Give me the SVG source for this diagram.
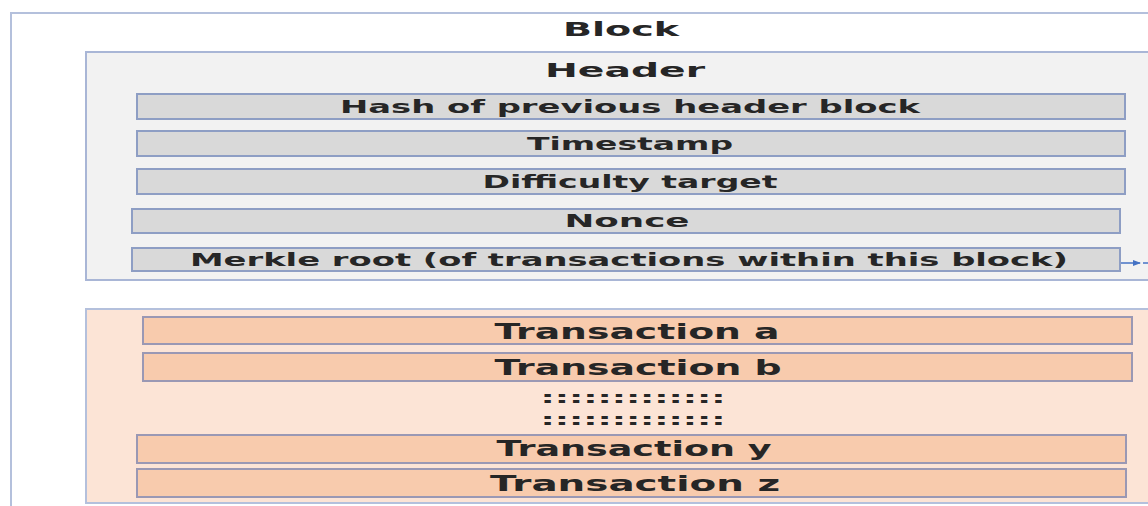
<svg xmlns="http://www.w3.org/2000/svg" width="1148" height="506" viewBox="0 0 1148 506">
<style>
.t{font-family:"DejaVu Sans","Liberation Sans",sans-serif;font-weight:bold;fill:#262626;text-anchor:middle}
.f{fill:#d9d9d9;stroke:#8e9ec4;stroke-width:2}
.x{fill:#f8cbad;stroke:#9a98b4;stroke-width:2}
</style>
<defs>
<marker id="ah" markerWidth="8" markerHeight="6" refX="7" refY="3" orient="auto" markerUnits="userSpaceOnUse">
<path d="M0,0 L8,3 L0,6 Z" fill="#4472c4"/>
</marker>
</defs>
<rect width="1148" height="506" fill="#ffffff"/>
<g id="block">
<rect x="11" y="13" width="1150" height="510" fill="#ffffff" stroke="#b4c0dc" stroke-width="2"/>
<text class="t" x="621" y="36" font-size="19" textLength="116" lengthAdjust="spacingAndGlyphs">Block</text>
</g>
<g id="header">
<rect x="86" y="52" width="1080" height="228" fill="#f2f2f2" stroke="#a9b6d6" stroke-width="2"/>
<text class="t" x="625" y="77" font-size="19" textLength="160" lengthAdjust="spacingAndGlyphs">Header</text>
</g>
<g id="hash">
<rect class="f" x="137" y="94" width="988" height="25"/>
<text class="t" x="630" y="113" font-size="18" textLength="580" lengthAdjust="spacingAndGlyphs">Hash of previous header block</text>
</g>
<g id="timestamp">
<rect class="f" x="137" y="131" width="988" height="25"/>
<text class="t" x="630" y="150" font-size="18" textLength="206" lengthAdjust="spacingAndGlyphs">Timestamp</text>
</g>
<g id="difficulty">
<rect class="f" x="137" y="169" width="988" height="25"/>
<text class="t" x="630" y="188" font-size="18" textLength="295" lengthAdjust="spacingAndGlyphs">Difficulty target</text>
</g>
<g id="nonce">
<rect class="f" x="132" y="209" width="988" height="24"/>
<text class="t" x="627" y="227" font-size="18" textLength="125" lengthAdjust="spacingAndGlyphs">Nonce</text>
</g>
<g id="merkle">
<rect class="f" x="132" y="248" width="988" height="23"/>
<text class="t" x="629" y="266" font-size="18" textLength="878" lengthAdjust="spacingAndGlyphs">Merkle root (of transactions within this block)</text>
</g>
<g id="transactions">
<rect x="86" y="309" width="1080" height="194" fill="#fce4d6" stroke="#b4c0dc" stroke-width="2"/>
<text class="t" x="633" y="403" font-size="16" textLength="185" lengthAdjust="spacingAndGlyphs" fill="#404040">:::::::::::::</text>
<text class="t" x="633" y="425" font-size="16" textLength="185" lengthAdjust="spacingAndGlyphs" fill="#404040">:::::::::::::</text>
</g>
<g id="tx-a">
<rect class="x" x="143" y="317" width="989" height="27"/>
<text class="t" x="637" y="339" font-size="22" textLength="285" lengthAdjust="spacingAndGlyphs">Transaction a</text>
</g>
<g id="tx-b">
<rect class="x" x="143" y="353" width="989" height="28"/>
<text class="t" x="638" y="375" font-size="22" textLength="287" lengthAdjust="spacingAndGlyphs">Transaction b</text>
</g>
<g id="tx-y">
<rect class="x" x="137" y="435" width="989" height="28"/>
<text class="t" x="634" y="456" font-size="22" textLength="275" lengthAdjust="spacingAndGlyphs">Transaction y</text>
</g>
<g id="tx-z">
<rect class="x" x="137" y="469" width="989" height="28"/>
<text class="t" x="635" y="491" font-size="22" textLength="290" lengthAdjust="spacingAndGlyphs">Transaction z</text>
</g>
<g id="connectors">
<line x1="1121" y1="263" x2="1140" y2="263" stroke="#4472c4" stroke-width="1.5" marker-end="url(#ah)"/>
<line x1="1143" y1="263" x2="1148" y2="263" stroke="#4472c4" stroke-width="1.5"/>
</g>
</svg>
